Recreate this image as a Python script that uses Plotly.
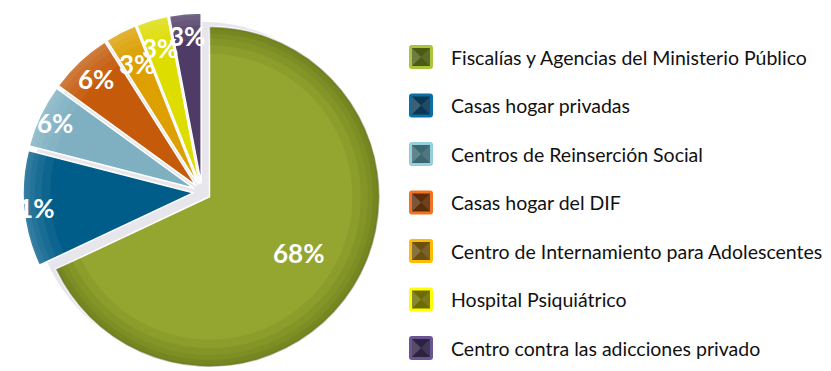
import math
import plotly.graph_objects as go

# Distribución por tipo de institución (porcentajes)
categories = [
    "Fiscalías y Agencias del Ministerio Público",
    "Casas hogar privadas",
    "Centros de Reinserción Social",
    "Casas hogar del DIF",
    "Centro de Internamiento para Adolescentes",
    "Hospital Psiquiátrico",
    "Centro contra las adicciones privado",
]
values = [68, 11, 6, 6, 3, 3, 3]

slice_colors = ["#94a62f", "#005d89", "#7eb0c1", "#c65a0b", "#dda000", "#dedd00", "#4f3c66"]
icon_colors = ["#a9c63b", "#0b6fa6", "#95cfdb", "#f27221", "#ffbb00", "#ffff00", "#6a5592"]
icon_inner = ["#4b5b12", "#0a3752", "#3b6771", "#5c2c09", "#6b5110", "#6b6b00", "#2b2141"]
# how far out along each slice's bisector its label sits (fraction of radius)
label_radius = [0.62, 0.97, 0.90, 0.86, 0.79, 0.83, 0.87]

W, H = 831, 371
PULL = 0.052

# pie box in pixels
cx, cy, box = 202, 192, 358
r_pie = box / (2 + 2 * PULL)


def dom(cx, cy, size):
    return dict(
        x=[(cx - size / 2) / W, (cx + size / 2) / W],
        y=[1 - (cy + size / 2) / H, 1 - (cy - size / 2) / H],
    )


pie_dom = dom(cx, cy, box)
pulls = [PULL] * len(values)

common = dict(
    values=values,
    labels=categories,
    sort=False,
    direction="clockwise",
    rotation=0,
    pull=pulls,
    domain=pie_dom,
    showlegend=False,
    hoverinfo="skip",
    textinfo="none",
)

fig = go.Figure()

# grey backing disc that shows through the gaps between exploded slices
fig.add_trace(go.Pie(
    values=[1], labels=["fondo"], sort=False, showlegend=False, hoverinfo="skip",
    textinfo="none", domain=dom(cx, cy, 2 * r_pie),
    marker=dict(colors=["#e6e6ec"], line=dict(width=0)),
))

# coloured slices
fig.add_trace(go.Pie(
    **common,
    marker=dict(colors=slice_colors, line=dict(color="white", width=1.5)),
))

# soft rim shading on each slice, built up in thin translucent rings
for hole in [0.84, 0.89, 0.93, 0.96, 0.985]:
    cols = ["rgba(35,45,0,0.065)"] + ["rgba(255,255,255,0.05)"] * 6
    fig.add_trace(go.Pie(
        **common, hole=hole,
        marker=dict(colors=cols, line=dict(width=0)),
    ))

annotations = []

# percentage labels placed along each slice's bisector
total = sum(values)
start = 0.0
for i, v in enumerate(values):
    mid = math.radians((start + v / 2) / total * 360)
    start += v
    dist = (pulls[i] + label_radius[i]) * r_pie
    lx = cx + dist * math.sin(mid)
    ly = cy - dist * math.cos(mid)
    annotations.append(dict(
        x=lx / W, y=1 - ly / H, xref="paper", yref="paper",
        xanchor="center", yanchor="middle", showarrow=False,
        text=f"{round(v / total * 100)}%",
        font=dict(family="Lato", size=26, color="white", weight="bold"),
    ))

# legend drawn as icons + text
shapes = []
row0, step = 57, 48.5
icon_x = 421
half, inner = 12, 9
for i, name in enumerate(categories):
    ypx = row0 + i * step
    xa, ya = icon_x / W, 1 - ypx / H
    rc = 3
    outer_path = (
        f"M{-half + rc},{-half} L{half - rc},{-half} Q{half},{-half} {half},{-half + rc} "
        f"L{half},{half - rc} Q{half},{half} {half - rc},{half} L{-half + rc},{half} "
        f"Q{-half},{half} {-half},{half - rc} L{-half},{-half + rc} Q{-half},{-half} {-half + rc},{-half} Z"
    )
    base = dict(type="path", xref="paper", yref="paper", xsizemode="pixel",
                ysizemode="pixel", xanchor=xa, yanchor=ya, layer="above",
                line=dict(width=0))
    shapes.append(dict(base, path=outer_path, fillcolor=icon_colors[i]))
    shapes.append(dict(
        base,
        path=f"M{-inner},{-inner} L{inner},{-inner} L{inner},{inner} L{-inner},{inner} Z",
        fillcolor=icon_inner[i],
    ))
    # lighter side facets of the bevel
    shapes.append(dict(base, path=f"M{-inner},{-inner} L0,0 L{-inner},{inner} Z",
                       fillcolor="rgba(255,255,255,0.20)"))
    shapes.append(dict(base, path=f"M{inner},{-inner} L0,0 L{inner},{inner} Z",
                       fillcolor="rgba(255,255,255,0.10)"))
    annotations.append(dict(
        x=449 / W, y=ya, xref="paper", yref="paper", xanchor="left", yanchor="middle",
        text=name, showarrow=False,
        font=dict(family="Lato", size=19.5, color="#111111"),
    ))

fig.update_layout(
    width=W, height=H,
    margin=dict(l=0, r=0, t=0, b=0),
    paper_bgcolor="white",
    plot_bgcolor="white",
    shapes=shapes,
    annotations=annotations,
)

fig.write_html("out.html")
